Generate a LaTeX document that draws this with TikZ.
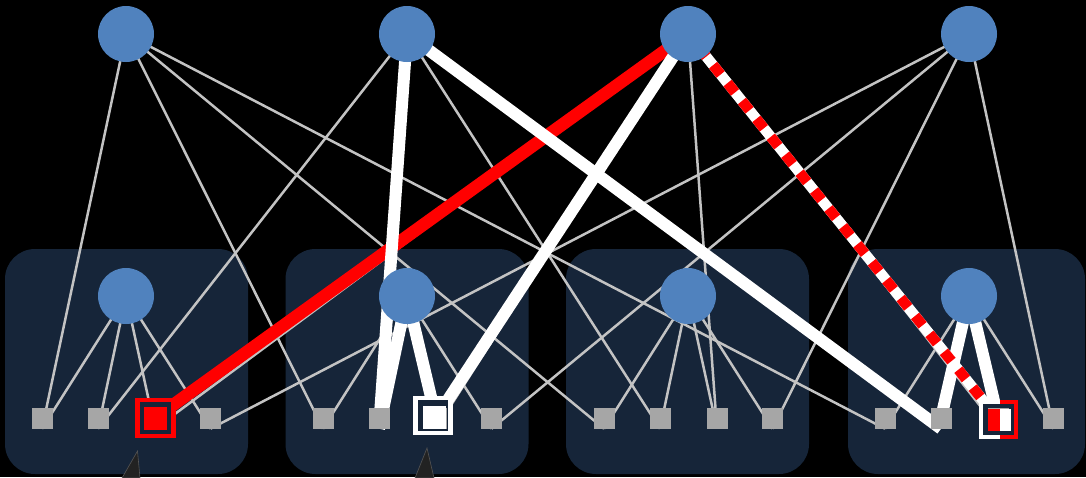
\documentclass[tikz,border=0pt]{standalone}
\usetikzlibrary{calc}
\definecolor{podc}{RGB}{22,37,57}
\definecolor{nodeblue}{RGB}{80,130,190}
\definecolor{leafgray}{RGB}{166,166,166}
\definecolor{linegray}{RGB}{195,195,195}
\definecolor{trigray}{RGB}{34,34,34}
\pgfdeclarelayer{bg}
\pgfdeclarelayer{fg}
\pgfsetlayers{bg,main,fg}
\tikzset{
  podbox/.style={fill=podc, rounded corners=30pt, minimum height=225pt, inner sep=0pt},
  circ/.style={circle, fill=nodeblue, minimum size=56pt, inner sep=0pt},
  leaf/.style={rectangle, fill=leafgray, minimum size=21pt, inner sep=0pt},
  thinlink/.style={draw=linegray, line width=2.5pt},
  thicklink/.style={draw=white, line width=12pt},
  redlink/.style={draw=red, line width=12.5pt},
  hibox/.style={rectangle, fill=podc, minimum size=36pt, inner sep=0pt, line width=4.8pt},
  pointer/.style={fill=trigray, draw={rgb,255:red,85;green,85;blue,85}, line width=0.6pt}
}
\begin{document}
\begin{tikzpicture}[x=1pt,y=-1pt]
\useasboundingbox (0,0) rectangle (1086,477);
% pods
\begin{pgfonlayer}{bg}
\fill[black] (0,0) rectangle (1086,477);
\node[podbox, minimum width=243pt] (B1) at (126.5,361.5) {};
\node[podbox, minimum width=243pt] (B2) at (407,361.5) {};
\node[podbox, minimum width=243pt] (B3) at (687.5,361.5) {};
\node[podbox, minimum width=237pt] (B4) at (966.5,361.5) {};
\end{pgfonlayer}
% nodes
\begin{pgfonlayer}{fg}
\foreach \i/\x in {1/126,2/407,3/688,4/969}{
  \node[circ] (T\i) at (\x,34) {};
  \node[circ] (P\i) at (\x,296) {};
}
\node[hibox, draw=red] (H1) at (155.5,418) {};
\node[hibox, draw=white, minimum size=35pt, line width=4.5pt] (H2) at (433,415.5) {};
\node[hibox, draw=none] (H3) at (998.5,419.5) {};
\draw[white, line width=4.5pt] ($(H3)+(1.5,-17.5)$) -- ($(H3)+(-17.5,-17.5)$) -- ($(H3)+(-17.5,17.5)$) -- ($(H3)+(1.5,17.5)$);
\draw[red, line width=4.5pt] ($(H3)+(1,-17.5)$) -- ($(H3)+(17.5,-17.5)$) -- ($(H3)+(17.5,17.5)$) -- ($(H3)+(1,17.5)$);
\foreach \p/\c in {1/126,2/407,3/688,4/969}{
  \node[leaf] (L\p1) at (\c-84,418) {};
  \node[leaf] (L\p2) at (\c-28,418) {};
  \node[leaf] (L\p3) at (\c+29,418) {};
  \node[leaf] (L\p4) at (\c+84.5,418) {};
}
\node[leaf, fill=red, minimum size=23pt] (R1) at (L13) {};
\node[leaf, fill=white, minimum size=23pt] (W2) at (434.5,417.5) {};
\fill[red] ($(H3)+(-11,-11)$) rectangle ($(H3)+(1.5,11)$);
\fill[white] ($(H3)+(1.5,-11)$) rectangle ($(H3)+(12,11)$);
\draw[pointer] (137.5,451) -- (122,478) -- (140,478) -- cycle;
\draw[pointer] (427,448) -- (415,478) -- (434,478) -- cycle;
\end{pgfonlayer}
% thin links
\foreach \t in {1,...,4}{
  \foreach \p in {1,...,4}{
    \draw[thinlink] (T\t.center) -- (L\p\t.south);
    \draw[thinlink] (P\p.center) -- (L\p\t.south);
  }
}
% thick links
\draw[redlink] (T3.center) -- (L13.center);
\draw[thicklink] (T2.center) -- (L22.south);
\draw[thicklink] (P2.center) -- (L22.south);
\draw[thicklink] (P2.center) -- (L23.center);
\draw[thicklink] (T3.center) -- (L23.center);
\draw[thicklink] (T2.center) -- (L42.south);
\draw[thicklink] (P4.center) -- (L42.center);
\draw[thicklink] (P4.center) -- (L43.center);
\draw[white, line width=10.5pt] (T3.center) -- (H3.center);
\draw[red, line width=10.5pt, dash pattern=on 12pt off 11pt, dash phase=6pt] (T3.center) -- (H3.center);
\end{tikzpicture}
\end{document}
